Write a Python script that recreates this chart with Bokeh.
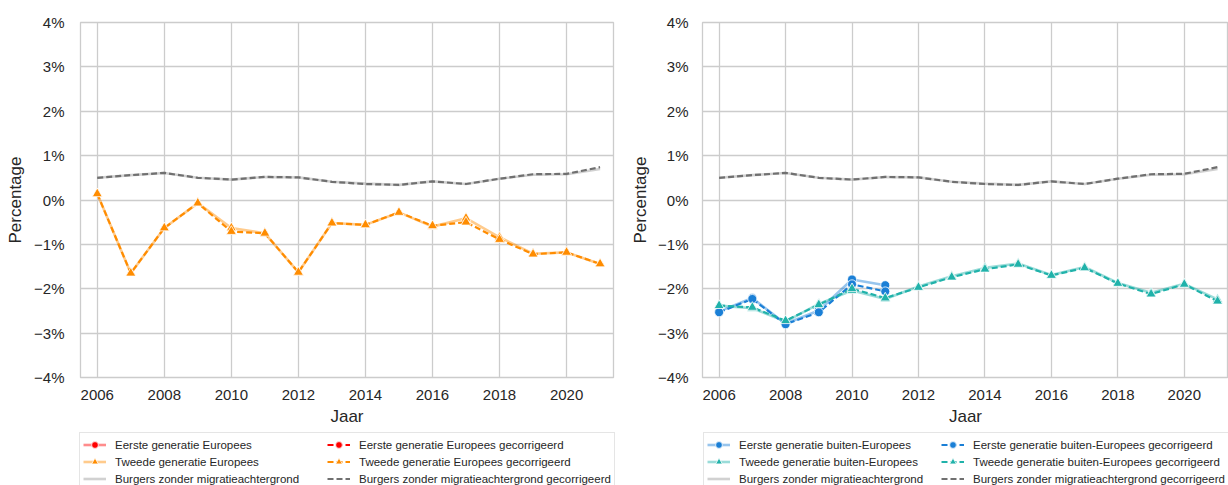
from bokeh.plotting import figure
from bokeh.layouts import row, column
from bokeh.models import ColumnDataSource, Legend, LegendItem, FixedTicker
from bokeh.embed import file_html
from bokeh.resources import INLINE

nan = float("nan")

years = list(range(2006, 2022))
x_ticks = [2006, 2008, 2010, 2012, 2014, 2016, 2018, 2020]
y_ticks = [-4, -3, -2, -1, 0, 1, 2, 3, 4]
y_tick_labels = ["\u22124%", "\u22123%", "\u22122%", "\u22121%", "0%", "1%", "2%", "3%", "4%"]

# Burgers zonder migratieachtergrond (same in both panels)
burgers = [0.50, 0.56, 0.61, 0.50, 0.46, 0.52, 0.51, 0.41, 0.37, 0.34, 0.42, 0.36, 0.48, 0.57, 0.58, 0.70]
burgers_gec = [0.50, 0.56, 0.61, 0.50, 0.46, 0.52, 0.51, 0.41, 0.36, 0.34, 0.42, 0.36, 0.48, 0.58, 0.59, 0.74]

# Left panel: Europees
eerste_eu = [nan] * 16
eerste_eu_gec = [nan] * 16
tweede_eu = [0.14, -1.65, -0.63, -0.07, -0.63, -0.75, -1.63, -0.52, -0.56, -0.28, -0.60, -0.41, -0.84, -1.21, -1.18, -1.44]
tweede_eu_gec = [0.14, -1.65, -0.63, -0.07, -0.71, -0.75, -1.63, -0.52, -0.56, -0.28, -0.58, -0.50, -0.89, -1.22, -1.18, -1.44]

# Right panel: buiten-Europees
eerste_beu = [-2.51, -2.21, -2.79, -2.49, -1.79, -1.92] + [nan] * 10
eerste_beu_gec = [-2.53, -2.23, -2.80, -2.53, -1.90, -2.06] + [nan] * 10
tweede_beu = [-2.38, -2.44, -2.74, -2.34, -2.04, -2.23, -1.95, -1.72, -1.53, -1.43, -1.69, -1.51, -1.87, -2.09, -1.89, -2.24]
tweede_beu_gec = [-2.38, -2.42, -2.72, -2.36, -2.00, -2.21, -1.97, -1.74, -1.56, -1.45, -1.70, -1.53, -1.88, -2.12, -1.90, -2.28]

labels_left = ["Eerste generatie Europees", "Tweede generatie Europees",
               "Burgers zonder migratieachtergrond",
               "Eerste generatie Europees gecorrigeerd", "Tweede generatie Europees gecorrigeerd",
               "Burgers zonder migratieachtergrond gecorrigeerd"]
labels_right = ["Eerste generatie buiten-Europees", "Tweede generatie buiten-Europees",
                "Burgers zonder migratieachtergrond",
                "Eerste generatie buiten-Europees gecorrigeerd", "Tweede generatie buiten-Europees gecorrigeerd",
                "Burgers zonder migratieachtergrond gecorrigeerd"]

RED = "#ff0000"
ORANGE = "#ff8c00"
BLUE = "#1a7fd6"
TEAL = "#20b2aa"
GREY_SOLID = "#9a9a9a"
GREY_DASH = "#707070"
FONT = "Liberation Sans"
TXT = "#262626"
GRID = "#cccccc"


def series(p, xs, ys, color, marker, dashed):
    src = ColumnDataSource(dict(x=xs, y=ys))
    if dashed:
        ln = p.line("x", "y", source=src, line_color=color, line_width=2.2, line_dash="6 3")
    else:
        ln = p.line("x", "y", source=src, line_color=color, line_width=2.6, line_alpha=0.45)
    renderers = [ln]
    if marker is not None:
        sc = p.scatter("x", "y", source=src, marker=marker, size=9 if marker == "circle" else 10,
                       fill_color=color, line_color="white", line_width=0.8)
        renderers.append(sc)
    return renderers


def make_fig(width, height, mb_left, mb_right, mb_top, mb_bottom, x_end, tick_standoff, label_standoff):
    p = figure(width=width, height=height, x_range=(2005.5, x_end), y_range=(-4, 4),
               output_backend="svg", toolbar_location=None,
               min_border_left=mb_left, min_border_right=mb_right,
               min_border_top=mb_top, min_border_bottom=mb_bottom)
    p.background_fill_color = "white"
    p.border_fill_color = "white"
    p.outline_line_color = GRID
    p.outline_line_width = 1.3
    p.xaxis.ticker = FixedTicker(ticks=x_ticks)
    p.yaxis.ticker = FixedTicker(ticks=y_ticks)
    p.xgrid.ticker = FixedTicker(ticks=x_ticks)
    p.ygrid.ticker = FixedTicker(ticks=y_ticks)
    p.grid.grid_line_color = GRID
    p.grid.grid_line_width = 1.3
    p.axis.axis_line_color = None
    p.axis.major_tick_line_color = None
    p.axis.minor_tick_line_color = None
    p.axis.major_tick_out = 0
    p.axis.major_tick_in = 0
    p.axis.major_label_text_font = FONT
    p.axis.major_label_text_font_size = "15px"
    p.axis.major_label_text_color = TXT
    p.axis.axis_label_text_font = FONT
    p.axis.axis_label_text_font_size = "17px"
    p.axis.axis_label_text_font_style = "normal"
    p.axis.axis_label_text_color = TXT
    p.yaxis.major_label_overrides = {t: l for t, l in zip(y_ticks, y_tick_labels)}
    p.xaxis.major_label_overrides = {t: str(t) for t in x_ticks}
    p.xaxis.axis_label = "Jaar"
    p.yaxis.axis_label = "Percentage"
    p.xaxis.major_label_standoff = 12
    p.xaxis.axis_label_standoff = 4
    p.yaxis.major_label_standoff = tick_standoff
    p.yaxis.axis_label_standoff = label_standoff
    return p


def legend_fig(width, offset_left, labels, colors, label_width):
    lf = figure(width=width, height=53, output_backend="svg", toolbar_location=None,
                min_border_left=offset_left, min_border_right=0, min_border_top=0, min_border_bottom=0,
                x_axis_type=None, y_axis_type=None)
    lf.outline_line_color = None
    lf.grid.visible = False
    lf.background_fill_color = "white"
    lf.border_fill_color = "white"
    c1, c2 = colors
    specs = [(c1, "circle", False), (c2, "triangle", False), (GREY_SOLID, None, False),
             (c1, "circle", True), (c2, "triangle", True), (GREY_DASH, None, True)]
    # legend-only renderers: a single missing value, so nothing is drawn in the frame
    rends = [series(lf, [nan], [nan], c, m, d) for c, m, d in specs]
    items = [LegendItem(label=l, renderers=r) for l, r in zip(labels, rends)]
    leg = Legend(items=items, location="top_left", orientation="vertical", nrows=3,
                 label_text_font=FONT, label_text_font_size="11.5px", label_text_color=TXT,
                 glyph_width=23, glyph_height=17, label_height=17, label_width=label_width,
                 label_standoff=9, spacing=0, padding=3, margin=0,
                 border_line_color=GRID, border_line_width=1.2,
                 background_fill_color="white", background_fill_alpha=1.0)
    lf.add_layout(leg, "center")
    return lf


# Left figure (page x 0..620)
p1 = make_fig(620, 432, 80, 7, 21, 53, 2021.4, 16, 6)
series(p1, years, eerste_eu, RED, "circle", False)
series(p1, years, tweede_eu, ORANGE, "triangle", False)
series(p1, years, burgers, GREY_SOLID, None, False)
series(p1, years, eerste_eu_gec, RED, "circle", True)
series(p1, years, tweede_eu_gec, ORANGE, "triangle", True)
series(p1, years, burgers_gec, GREY_DASH, None, True)

# Right figure (page x 620..1228)
p2 = make_fig(608, 432, 82, 0, 22, 55, 2021.33, 14, 5)
series(p2, years, eerste_beu, BLUE, "circle", False)
series(p2, years, tweede_beu, TEAL, "triangle", False)
series(p2, years, burgers, GREY_SOLID, None, False)
series(p2, years, eerste_beu_gec, BLUE, "circle", True)
series(p2, years, tweede_beu_gec, TEAL, "triangle", True)
series(p2, years, burgers_gec, GREY_DASH, None, True)

l1 = legend_fig(620, 79, labels_left, (RED, ORANGE), 212)
l2 = legend_fig(608, 83, labels_right, (BLUE, TEAL), 202)

layout = column(row(p1, p2, spacing=0), row(l1, l2, spacing=0), spacing=0)
open("out.html", "w").write(file_html(layout, INLINE))
